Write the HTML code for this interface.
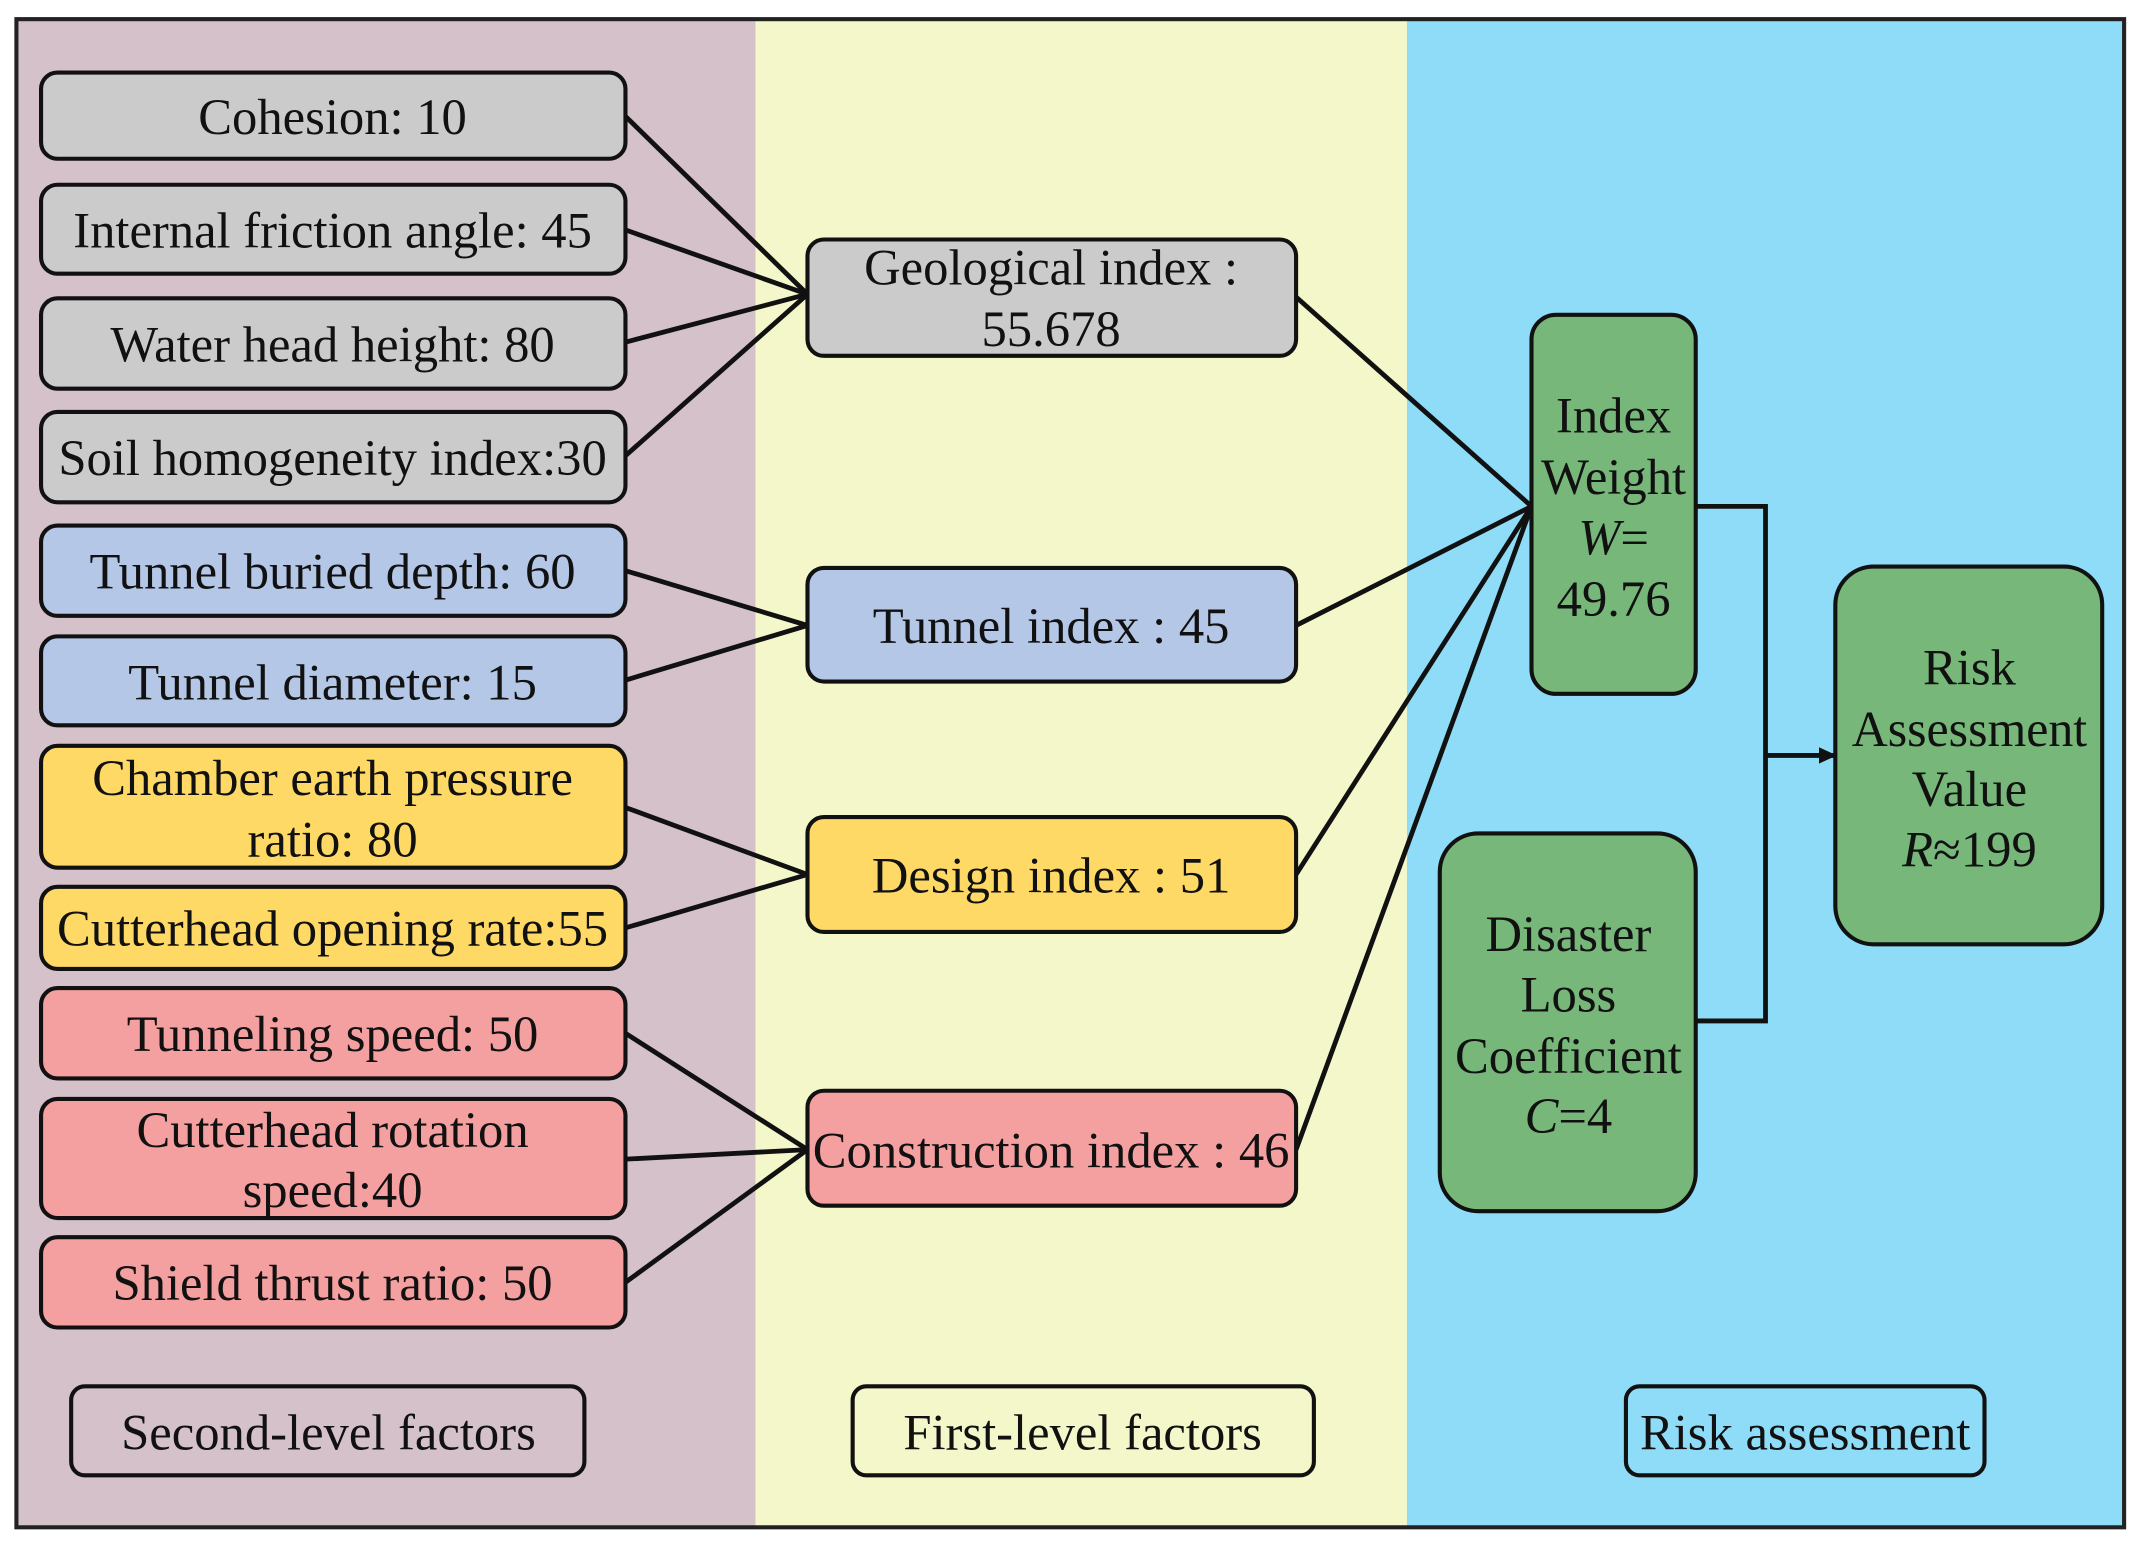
<!DOCTYPE html>
<html><head><meta charset="utf-8"><style>
html,body{margin:0;padding:0;background:#fff;}
svg{display:block;}
text{font-family:"Liberation Serif",serif;font-size:37px;fill:#111;}
</style></head><body>
<svg width="2146" height="1554" viewBox="0 0 1568 1135.5" preserveAspectRatio="none" xmlns="http://www.w3.org/2000/svg">
<defs><marker id="ah" markerWidth="12" markerHeight="12" refX="11" refY="6" orient="auto" markerUnits="userSpaceOnUse"><path d="M0,0 L13,6 L0,12 z" fill="#111"/></marker></defs>
<rect x="0" y="0" width="1568" height="1136" fill="#fff"/>
<rect x="12" y="14" width="540" height="1102" fill="#d5c1ca"/>
<rect x="552" y="14" width="476" height="1102" fill="#f4f7c9"/>
<rect x="1028" y="14" width="524" height="1102" fill="#8edcf7"/>
<rect x="12" y="14" width="1540" height="1102" fill="none" stroke="#222" stroke-width="3"/>

<g stroke="#111" stroke-width="3.5" fill="none">
<line x1="457" y1="85" x2="590" y2="215"/>
<line x1="457" y1="168" x2="590" y2="215"/>
<line x1="457" y1="250" x2="590" y2="215"/>
<line x1="457" y1="333" x2="590" y2="215"/>
<line x1="457" y1="417" x2="590" y2="457"/>
<line x1="457" y1="497" x2="590" y2="457"/>
<line x1="457" y1="590" x2="590" y2="639"/>
<line x1="457" y1="678" x2="590" y2="639"/>
<line x1="457" y1="755" x2="590" y2="840"/>
<line x1="457" y1="847" x2="590" y2="840"/>
<line x1="457" y1="937" x2="590" y2="840"/>
<line x1="947" y1="217" x2="1119" y2="370"/>
<line x1="947" y1="457" x2="1119" y2="370"/>
<line x1="947" y1="639" x2="1119" y2="370"/>
<line x1="947" y1="840" x2="1119" y2="370"/>
<polyline points="1239,370 1290,370 1290,746 1239,746"/>
<line x1="1290" y1="552" x2="1340" y2="552" marker-end="url(#ah)"/>
</g>

<g stroke="#111" stroke-width="3">
<rect x="30" y="53" width="427" height="63" rx="12" fill="#cbcbcb"/>
<rect x="30" y="135" width="427" height="65" rx="12" fill="#cbcbcb"/>
<rect x="30" y="218" width="427" height="66" rx="12" fill="#cbcbcb"/>
<rect x="30" y="301" width="427" height="66" rx="12" fill="#cbcbcb"/>
<rect x="30" y="384" width="427" height="66" rx="12" fill="#b4c7e7"/>
<rect x="30" y="465" width="427" height="65" rx="12" fill="#b4c7e7"/>
<rect x="30" y="545" width="427" height="89" rx="12" fill="#ffd966"/>
<rect x="30" y="648" width="427" height="60" rx="12" fill="#ffd966"/>
<rect x="30" y="722" width="427" height="66" rx="12" fill="#f5a0a0"/>
<rect x="30" y="803" width="427" height="87" rx="12" fill="#f5a0a0"/>
<rect x="30" y="904" width="427" height="66" rx="12" fill="#f5a0a0"/>
<rect x="590" y="175" width="357" height="85" rx="12" fill="#cbcbcb"/>
<rect x="590" y="415" width="357" height="83" rx="12" fill="#b4c7e7"/>
<rect x="590" y="597" width="357" height="84" rx="12" fill="#ffd966"/>
<rect x="590" y="797" width="357" height="84" rx="12" fill="#f5a0a0"/>
<rect x="1119" y="230" width="120" height="277" rx="18" fill="#77b77a"/>
<rect x="1052" y="609" width="187" height="276" rx="28" fill="#77b77a"/>
<rect x="1341" y="414" width="195" height="276" rx="28" fill="#77b77a"/>
<rect x="52" y="1013" width="375" height="65" rx="10" fill="none"/>
<rect x="623" y="1013" width="337" height="65" rx="10" fill="none"/>
<rect x="1188" y="1013" width="262" height="65" rx="10" fill="none"/>
</g>

<g text-anchor="middle">
<text x="243" y="98">Cohesion: 10</text>
<text x="243" y="181">Internal friction angle: 45</text>
<text x="243" y="264">Water head height: 80</text>
<text x="243" y="347">Soil homogeneity index:30</text>
<text x="243" y="430">Tunnel buried depth: 60</text>
<text x="243" y="511">Tunnel diameter: 15</text>
<text x="243" y="581">Chamber earth pressure</text>
<text x="243" y="626">ratio: 80</text>
<text x="243" y="691">Cutterhead opening rate:55</text>
<text x="243" y="768">Tunneling speed: 50</text>
<text x="243" y="838">Cutterhead rotation</text>
<text x="243" y="882">speed:40</text>
<text x="243" y="950">Shield thrust ratio: 50</text>
<text x="768" y="208">Geological index :</text>
<text x="768" y="253">55.678</text>
<text x="768" y="470">Tunnel index : 45</text>
<text x="768" y="652">Design index : 51</text>
<text x="768" y="853">Construction index : 46</text>
<g style="font-size:37px">
<text x="1179" y="316">Index</text>
<text x="1179" y="361">Weight</text>
<text x="1179" y="405"><tspan font-style="italic">W</tspan>=</text>
<text x="1179" y="450">49.76</text>
<text x="1146" y="695">Disaster</text>
<text x="1146" y="739">Loss</text>
<text x="1146" y="784">Coefficient</text>
<text x="1146" y="828"><tspan font-style="italic">C</tspan>=4</text>
<text x="1439" y="500">Risk</text>
<text x="1439" y="545" textLength="172" lengthAdjust="spacingAndGlyphs">Assessment</text>
<text x="1439" y="589">Value</text>
<text x="1439" y="633"><tspan font-style="italic">R</tspan>≈199</text>
</g>
<text x="240" y="1059">Second-level factors</text>
<text x="791" y="1059">First-level factors</text>
<text x="1319" y="1059">Risk assessment</text>
</g>
</svg>
</body></html>
